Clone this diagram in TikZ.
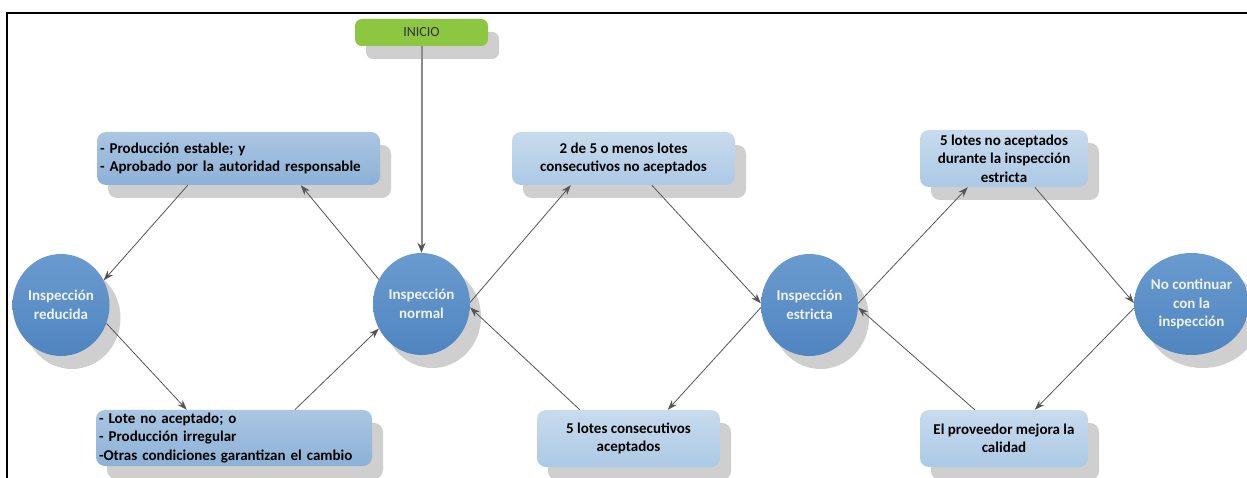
\documentclass[tikz,border=0pt]{standalone}
\usepackage{fontspec}
\setmainfont{Carlito}
\usetikzlibrary{shapes.geometric,shadows,arrows.meta}
\definecolor{dkTop}{HTML}{AAC6E2}
\definecolor{dkBot}{HTML}{8CB1D7}
\definecolor{ltTop}{HTML}{C8DBEE}
\definecolor{ltBot}{HTML}{ACC9E5}
\definecolor{cTop}{HTML}{6A9BCF}
\definecolor{cBot}{HTML}{4F85C0}
\definecolor{shGray}{HTML}{CFCFCF}
\definecolor{connGray}{HTML}{555555}
\definecolor{startGray}{HTML}{8A8A8A}
\definecolor{inicioGreen}{HTML}{8DC641}
\definecolor{circText}{HTML}{EEF3FA}
\begin{document}
\begin{tikzpicture}[x=1pt,y=-1pt,
  shadowed/.style={drop shadow={shadow xshift=11pt,shadow yshift=-13pt,fill=shGray,opacity=1}},
  box/.style={rectangle,rounded corners=9pt,inner sep=3pt,shadowed,
    font=\fontsize{15}{18.5}\selectfont\bfseries,text=black},
  dkbox/.style={box,top color=dkTop,bottom color=dkBot},
  ltbox/.style={box,top color=ltTop,bottom color=ltBot,align=center},
  state/.style={ellipse,minimum width=97pt,minimum height=102pt,inner sep=0pt,shadowed,
    top color=cTop,bottom color=cBot,text=circText,align=center,
    font=\fontsize{15}{18.5}\selectfont\bfseries},
  conn/.style={draw=connGray,line width=0.8pt,-{Stealth[length=10pt,width=7pt]}},
  startconn/.style={draw=startGray,line width=2pt,-{Stealth[length=10pt,width=8pt,color=connGray]}}
]
\useasboundingbox (0,0) rectangle (1247,478);
\fill[white] (0,0) rectangle (1247,478);
\draw[line width=1.6pt] (7,478) -- (7,13) -- (1247,13);

% start node
\node[rectangle,rounded corners=7pt,minimum width=133pt,minimum height=27pt,inner sep=0pt,
  fill=inicioGreen,shadowed,font=\fontsize{14}{16}\selectfont,text=black!80]
  (I) at (421.5,32.5) {INICIO};

% states
\node[state] (R) at (61,305) {Inspección\\reducida};
\node[state] (N) at (421.5,304) {Inspección\\normal};
\node[state] (E) at (809.5,305) {Inspección\\estricta};
\node[state] (X) at (1191.5,304) {No continuar\\con la\\inspección};

% condition boxes
\node[dkbox,text width=277pt,minimum height=53pt,align=left] (A) at (238.5,158.5)
  {- Producción estable; y\\- Aprobado por la autoridad responsable};
\node[dkbox,text width=270pt,minimum height=55pt,align=left] (D) at (234,438)
  {- Lote no aceptado; o\\- Producción irregular\\-Otras condiciones garantizan el cambio};
\node[ltbox,minimum width=223pt,minimum height=53pt] (B) at (623.5,158.5)
  {2 de 5 o menos lotes\\consecutivos no aceptados};
\node[ltbox,minimum width=168pt,minimum height=57pt] (C) at (1004,158.5)
  {5 lotes no aceptados\\durante la inspección\\estricta};
\node[ltbox,minimum width=183pt,minimum height=57pt] (Ea) at (628.5,438.5)
  {5 lotes consecutivos\\aceptados};
\node[ltbox,minimum width=168pt,minimum height=57pt] (F) at (1004,438.5)
  {El proveedor mejora la\\calidad};

% connectors
\draw[startconn] (I) -- (N);
\draw[conn] ([xshift=91pt]A.south west) -- (R.30);
\draw[conn] (N.150) -- ([xshift=204pt]A.south west);
\draw[conn] (R.-22) -- ([xshift=91pt]D.north west);
\draw[conn] ([xshift=199pt]D.north west) -- (N.210);
\draw[conn] (N.2) -- ([xshift=59pt]B.south west);
\draw[conn] ([xshift=140pt]B.south west) -- (E.178);
\draw[conn] (E.183) -- ([xshift=131pt]Ea.north west);
\draw[conn] ([xshift=43pt]Ea.north west) -- (N.-4);
\draw[conn] (E.2) -- ([xshift=48pt]C.south west);
\draw[conn] ([xshift=115pt]C.south west) -- (X.179);
\draw[conn] (X.184) -- ([xshift=115pt]F.north west);
\draw[conn] ([xshift=55pt]F.north west) -- (E.-3);
\end{tikzpicture}
\end{document}
